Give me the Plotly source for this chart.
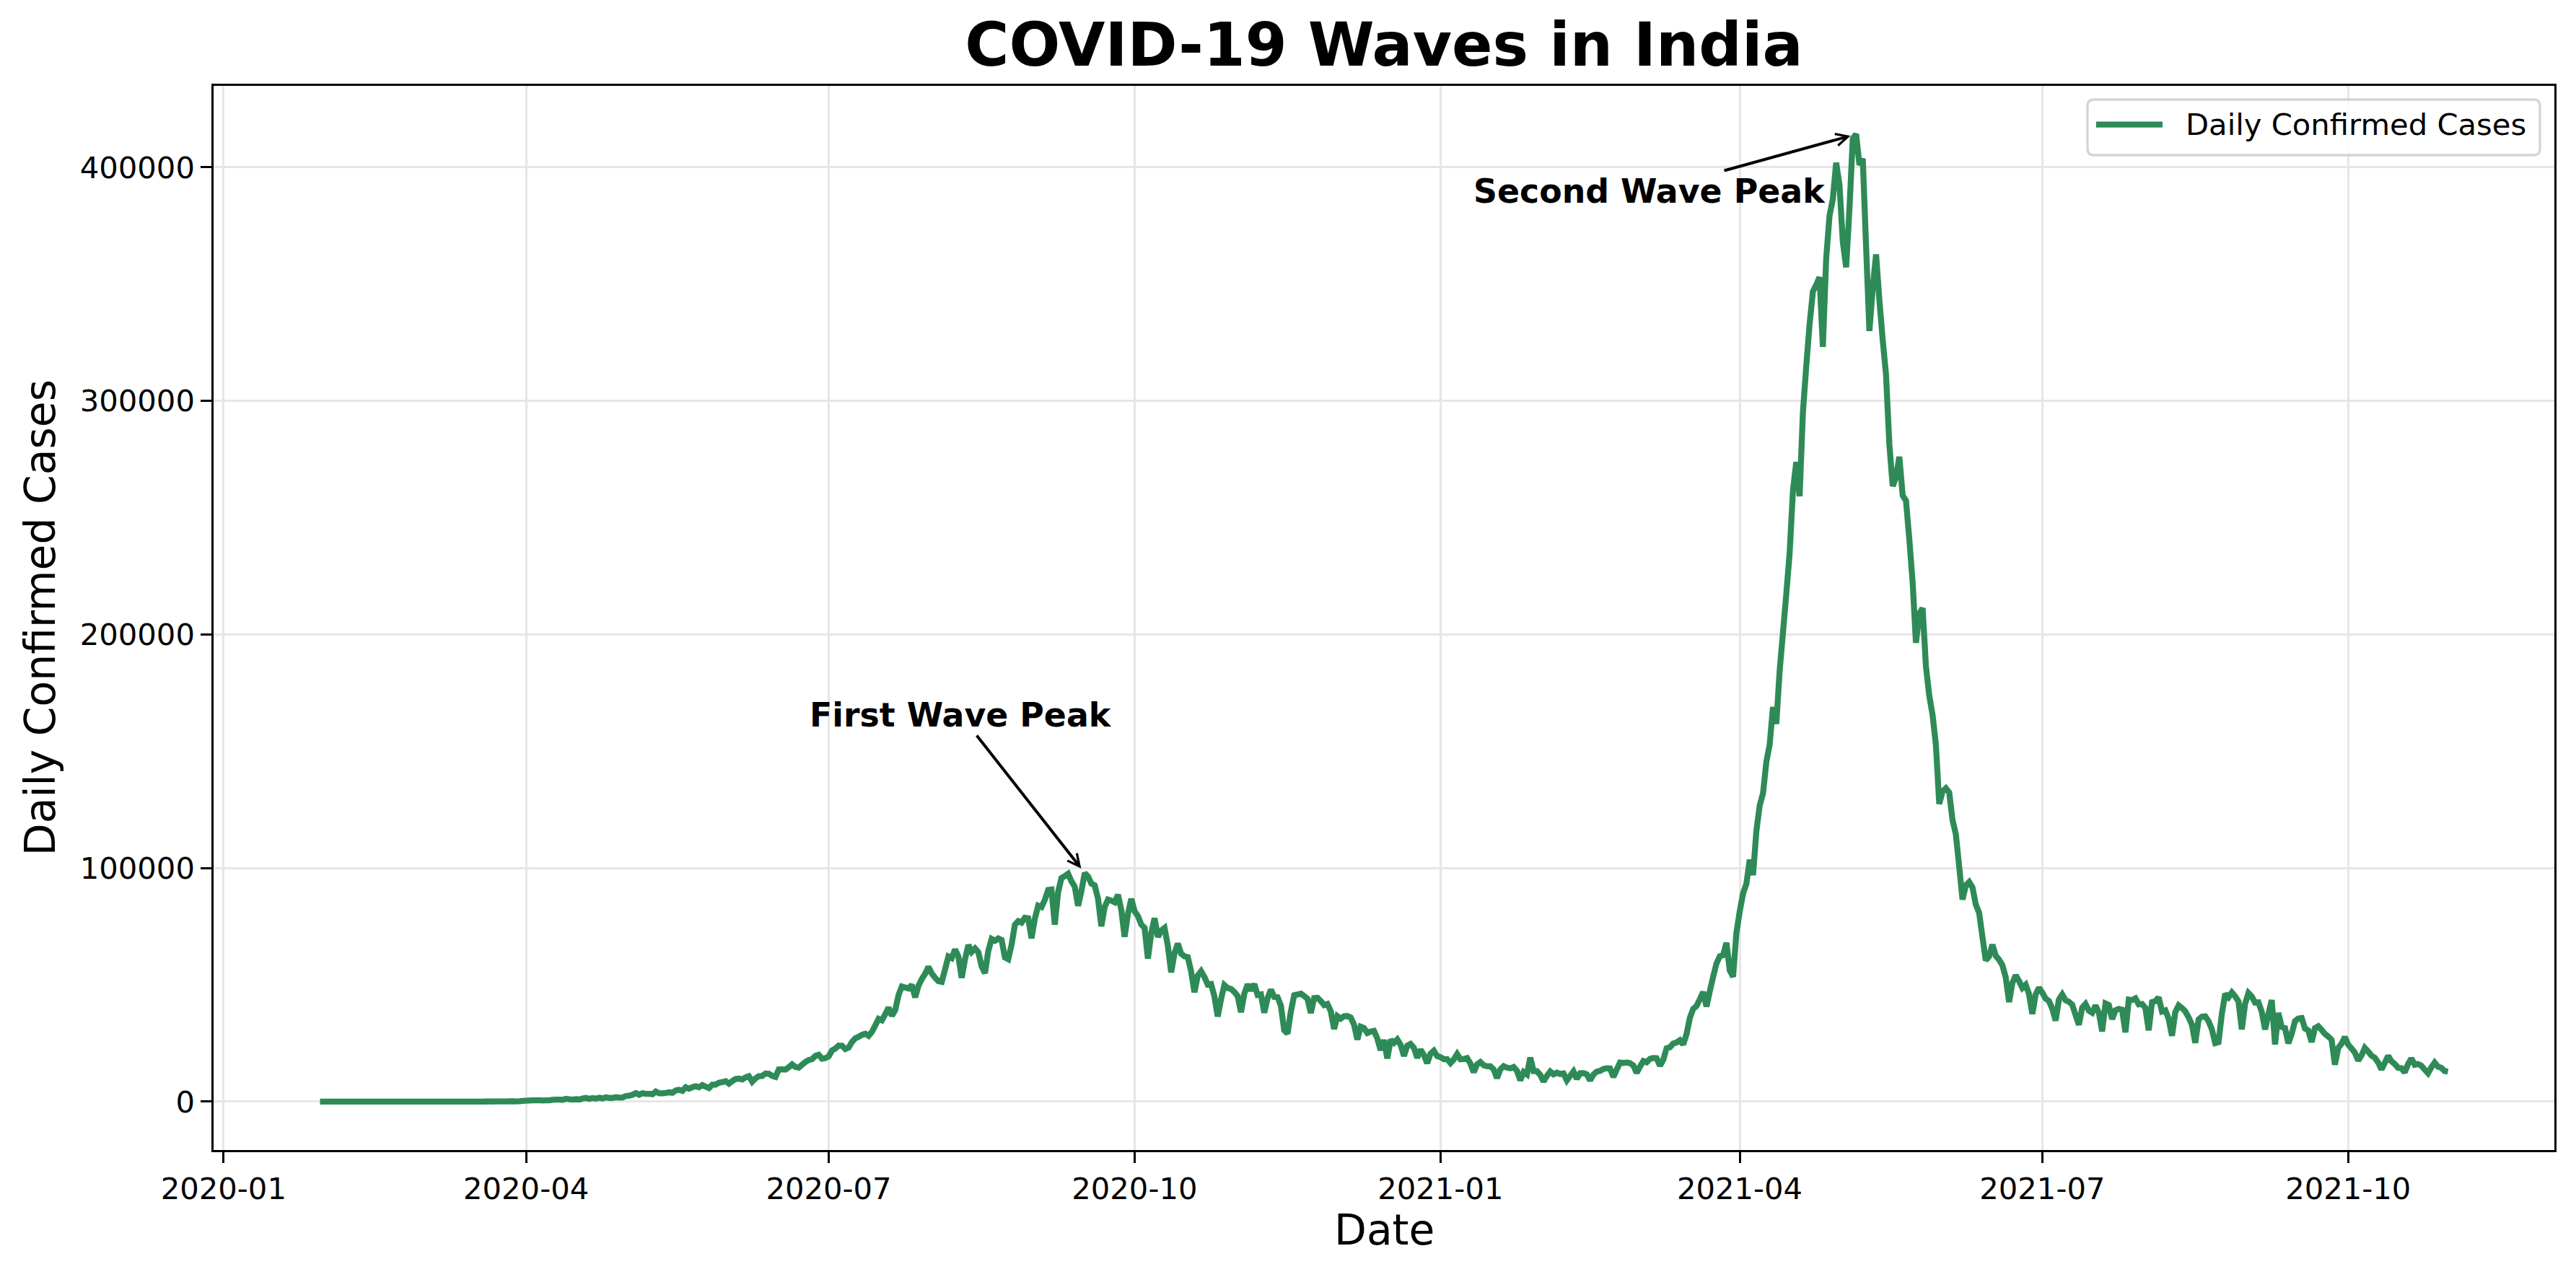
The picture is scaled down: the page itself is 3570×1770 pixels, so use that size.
import pandas as pd
import plotly.graph_objects as go

# ---------------- data (daily confirmed cases, India) ----------------
cases_2020_01 = [1, 0]  # Jan 30 - Jan 31
cases_2020_02 = [0, 1, 1, 0, 0, 0, 0, 0, 0, 0, 0, 0, 0, 0, 0, 0, 0, 0, 0, 0,
                 0, 0, 0, 0, 0, 0, 0, 0, 0]
cases_2020_03 = [0, 2, 1, 22, 2, 1, 3, 5, 9, 15, 8, 10, 10, 12, 11, 15, 18, 25, 27, 58,
                 78, 69, 94, 74, 86, 73, 153, 136, 120, 187, 309]
cases_2020_04 = [424, 486, 560, 579, 609, 484, 573, 565, 813, 871, 854, 758, 1243, 1031, 886,
                 1061, 922, 1371, 1580, 1239, 1537, 1292, 1667, 1408, 1835, 1607, 1568, 1902, 1705, 1801]
cases_2020_05 = [2396, 2564, 2952, 3656, 2971, 3602, 3344, 3339, 3175, 4311, 3592, 3562, 3726, 3991, 3808,
                 4794, 5049, 4628, 6147, 5553, 6198, 6629, 6154, 7113, 6414, 5843, 7293, 7300, 8105, 8336, 8782]
cases_2020_06 = [7723, 8812, 9689, 9849, 9472, 10408, 10882, 8536, 9981, 10956, 11000, 12043, 11932, 11072, 10585,
                 13805, 13862, 13729, 14740, 15946, 14821, 14545, 15823, 16971, 17834, 18233, 19620, 20035, 18373, 18641]
cases_2020_07 = [19417, 21914, 22721, 24018, 23942, 22500, 23135, 25571, 27114, 27755, 28637, 29108, 28179, 29917, 32607,
                 35468, 34820, 37411, 40243, 36806, 39172, 45601, 49310, 48892, 48472, 49981, 44650, 49632, 52479, 54736, 57704]
cases_2020_08 = [54865, 53001, 51597, 51282, 56626, 62170, 61455, 65156, 62117, 53016, 60963, 67066, 64142, 65609, 63986,
                 57981, 55018, 64572, 69672, 68900, 69876, 69239, 61749, 60975, 67151, 75760, 77266, 76665, 78761, 78512, 69921]
cases_2020_09 = [78357, 83883, 83341, 86432, 90632, 90802, 75809, 89706, 95735, 96551, 97570, 94372, 92071, 83809, 90123,
                 97894, 96424, 93337, 92605, 86961, 75083, 83347, 86508, 86052, 85362, 88600, 82170, 70589, 80472, 86821]
cases_2020_10 = [81484, 79476, 75829, 74442, 61267, 72049, 78524, 70496, 73272, 74383, 66732, 55342, 63509, 67708, 63371,
                 62212, 61871, 55722, 46790, 54044, 55839, 53370, 50129, 50356, 45149, 36470, 43893, 49881, 48648, 48268, 46963]
cases_2020_11 = [45231, 38310, 46253, 50210, 47638, 50357, 45674, 45903, 38074, 44281, 47905, 44879, 44684, 41100, 30548,
                 29163, 38617, 45576, 45882, 46232, 45209, 44059, 37975, 44376, 44489, 43082, 41322, 41810, 38772, 31118]
cases_2020_12 = [36604, 35551, 36595, 36652, 36011, 32981, 26567, 32080, 31521, 29398, 30006, 30254, 27071, 22065, 26382,
                 18500, 26500, 25152, 26624, 24337, 19556, 23950, 24712, 23068, 18732, 22273, 20021, 16432, 20550, 21822, 19500]
cases_2021_01 = [19078, 18177, 18165, 16504, 18088, 20346, 18139, 18222, 18645, 16311, 12584, 15968, 16946, 15590, 15158,
                 15144, 13788, 10064, 13823, 15223, 14545, 14256, 14849, 13203, 9102, 12689, 11666, 18855, 13083, 13052, 11427]
cases_2021_02 = [8635, 11039, 12899, 11713, 12408, 11831, 12059, 9110, 11067, 12923, 9800, 12143, 12194, 11666,
                 9121, 11610, 12881, 13193, 13993, 14264, 14199, 10584, 13742, 16738, 16577, 16752, 16488, 15510]
cases_2021_03 = [12286, 14989, 17407, 16838, 18327, 18711, 18599, 15388, 17921, 22854, 23285, 24882, 25320, 26291, 24492,
                 28903, 35871, 39726, 40953, 43846, 46951, 40715, 47262, 53476, 59118, 62258, 62714, 68020, 56211, 53480, 72330]
cases_2021_04 = [81466, 89129, 93249, 103558, 96982, 115736, 126789, 131968, 145384, 152879, 168912, 161736, 184372, 200739, 217353,
                 234692, 261500, 273810, 259170, 295041, 314835, 332730, 346786, 349691, 352991, 323144, 360960, 379257, 386452, 401993]
cases_2021_05 = [392488, 368147, 357229, 382315, 412262, 414188, 401078, 403738, 366161, 329942, 348421, 362727, 343144, 326098, 311170,
                 281386, 263533, 267334, 276110, 259551, 257299, 240842, 222315, 196427, 208921, 211298, 186364, 173790, 165553, 152734, 127510]
cases_2021_06 = [132788, 134154, 132364, 120529, 114460, 100636, 86498, 92596, 94052, 91702, 84332, 80834, 70421, 60471, 62224,
                 67208, 62480, 60753, 58419, 53256, 42640, 50848, 54069, 51667, 48698, 50040, 46148, 37566, 45951, 48786]
cases_2021_07 = [46617, 44111, 43071, 39796, 34703, 43733, 45892, 43393, 42766, 41506, 37154, 32906, 40215, 41806, 38949,
                 38079, 41157, 38164, 30093, 42015, 41383, 35342, 39097, 39742, 39361, 29689, 43654, 43509, 44230, 41649, 41831]
cases_2021_08 = [40134, 30549, 42625, 42982, 44643, 38628, 39070, 35499, 28204, 38353, 41195, 40120, 38667, 36083, 32937,
                 25166, 35178, 36401, 36571, 34457, 30948, 25072, 25467, 37593, 46164, 44658, 46759, 45083, 42909, 30941, 41965]
cases_2021_09 = [46500, 45000, 42400, 42500, 38500, 30900, 37500, 43500, 24500, 38000, 32000, 31500, 25000, 29000, 34500,
                 35600, 35800, 31300, 30500, 25500, 31500, 32300, 30700, 29000, 27900, 26500, 15800, 23000, 24800, 27700]
cases_2021_10 = [24400, 22800, 21000, 17600, 19800, 23000, 21500, 19700, 18800, 16800, 13800, 16600, 19600, 17300, 16100,
                 14500, 14300, 12500, 16100, 18500, 15800, 16100, 15400, 13700, 12200, 14700, 16700, 15000, 14500, 13100, 12900]

first_date = "2020-01-30"
x_tick_vals = ["2020-01-01", "2020-04-01", "2020-07-01", "2020-10-01",
               "2021-01-01", "2021-04-01", "2021-07-01", "2021-10-01"]
x_tick_text = ["2020-01", "2020-04", "2020-07", "2020-10",
               "2021-01", "2021-04", "2021-07", "2021-10"]
y_tick_vals = [0, 100000, 200000, 300000, 400000]
y_tick_text = ["0", "100000", "200000", "300000", "400000"]

series_name = "Daily Confirmed Cases"
title_text = "COVID-19 Waves in India"
x_title = "Date"
y_title = "Daily Confirmed Cases"
first_label = "First Wave Peak"
second_label = "Second Wave Peak"

# ---------------- assemble ----------------
months = [cases_2020_01, cases_2020_02, cases_2020_03, cases_2020_04, cases_2020_05, cases_2020_06,
          cases_2020_07, cases_2020_08, cases_2020_09, cases_2020_10, cases_2020_11, cases_2020_12,
          cases_2021_01, cases_2021_02, cases_2021_03, cases_2021_04, cases_2021_05, cases_2021_06,
          cases_2021_07, cases_2021_08, cases_2021_09, cases_2021_10]
cases = [v for m in months for v in m]
dates = pd.date_range(first_date, periods=len(cases), freq="D")
s = pd.Series(cases, index=dates)

# peaks
first_wave = s[s.index < "2021-01-01"]
p1_date, p1_val = first_wave.idxmax(), first_wave.max()
p2_date, p2_val = s.idxmax(), s.max()

# ---------------- geometry ----------------
W, H = 3570, 1770
ML, MR, MT, MB = 296, 30, 119, 176
PW, PH = W - ML - MR, H - MT - MB


def fx(px):
    return (px - ML) / PW


def fy(py):
    return (H - MB - py) / PH


FONT = "DejaVu Sans"
GREEN = "#2E8B57"
TICK_PX = 41.7
LABEL_PX = 58.3
ANNOT_PX = 45.8

# axis ranges with 5% margins (matplotlib style)
xpad = (dates[-1] - dates[0]) * 0.05
x_range = [dates[0] - xpad, dates[-1] + xpad]
ymin, ymax = 0, max(cases)
ypad = (ymax - ymin) * 0.05
y_range = [ymin - ypad, ymax + ypad]

fig = go.Figure()
fig.add_trace(go.Scatter(
    x=dates, y=cases, mode="lines", name=series_name,
    line=dict(color=GREEN, width=8.3, simplify=False), showlegend=False,
))

axis_common = dict(
    showline=True, linecolor="black", linewidth=3.3, mirror=True,
    ticks="outside", ticklen=14.6, tickwidth=3.3, tickcolor="black",
    showgrid=True, gridcolor="#e6e6e6", gridwidth=3.3,
    zeroline=False,
    tickfont=dict(family=FONT, size=TICK_PX, color="black"),
)

fig.update_xaxes(range=x_range, tickmode="array", tickvals=x_tick_vals, ticktext=x_tick_text,
                 **axis_common)
fig.update_yaxes(range=y_range, tickmode="array", tickvals=y_tick_vals, ticktext=y_tick_text,
                 **axis_common)

# legend (matplotlib-like box, upper right)
lx0, lx1, ly0, ly1 = fx(2893), fx(3520), fy(215), fy(138)
rx, ry = 9 / PW, 9 / PH
legend_path = (f"M {lx0+rx},{ly0} L {lx1-rx},{ly0} Q {lx1},{ly0} {lx1},{ly0+ry} "
               f"L {lx1},{ly1-ry} Q {lx1},{ly1} {lx1-rx},{ly1} "
               f"L {lx0+rx},{ly1} Q {lx0},{ly1} {lx0},{ly1-ry} "
               f"L {lx0},{ly0+ry} Q {lx0},{ly0} {lx0+rx},{ly0} Z")
shapes = [
    dict(type="path", xref="paper", yref="paper", path=legend_path,
         line=dict(color="#d4d4d4", width=3.3), fillcolor="rgba(255,255,255,0.8)", layer="above"),
    dict(type="line", xref="paper", yref="paper", x0=fx(2905), x1=fx(2997), y0=fy(172.7), y1=fy(172.7),
         line=dict(color=GREEN, width=8.3), layer="above"),
]

annotations = [
    dict(x=fx(3027), y=fy(172.5), xref="paper", yref="paper", text=series_name, showarrow=False,
         xanchor="left", yanchor="middle", font=dict(family=FONT, size=TICK_PX, color="black")),
    dict(x=p1_date, y=p1_val, xref="x", yref="y", text=first_label, showarrow=True,
         ax=-172, ay=-219, arrowhead=5, arrowsize=0.82, arrowwidth=4, arrowcolor="black", standoff=8,
         font=dict(family=FONT, size=ANNOT_PX, color="black", weight="bold")),
    dict(x=p2_date, y=p2_val, xref="x", yref="y", text=second_label, showarrow=True,
         ax=-286, ay=79, arrowhead=5, arrowsize=0.82, arrowwidth=4, arrowcolor="black", standoff=8,
         font=dict(family=FONT, size=ANNOT_PX, color="black", weight="bold")),
    dict(x=0.5, y=fy(1704.7), xref="paper", yref="paper", text=x_title, showarrow=False,
         xanchor="center", yanchor="middle", font=dict(family=FONT, size=LABEL_PX, color="black")),
    dict(x=fx(55.7), y=0.5, xref="paper", yref="paper", text=y_title, showarrow=False, textangle=-90,
         xanchor="center", yanchor="middle", font=dict(family=FONT, size=LABEL_PX, color="black")),
]

fig.update_layout(
    width=W, height=H,
    margin=dict(l=ML, r=MR, t=MT, b=MB, pad=0),
    paper_bgcolor="white", plot_bgcolor="white",
    title=dict(text=title_text, x=0.5, xref="paper", xanchor="center",
               y=1 - 61.7 / H, yref="container", yanchor="middle",
               font=dict(family=FONT, size=83.3, color="black", weight="bold")),
    shapes=shapes, annotations=annotations, showlegend=False,
)

fig.write_html("out.html")
